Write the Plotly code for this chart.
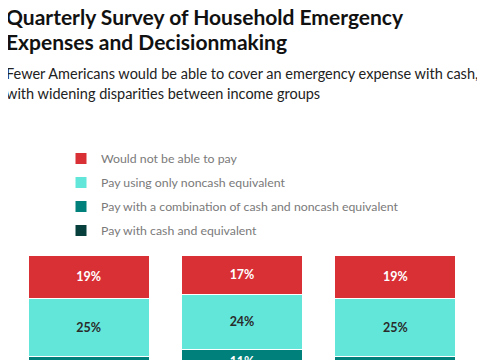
import plotly.graph_objects as go

categories = ["Lower income", "Middle income", "Upper income"]
cash_equiv = [44, 48, 43]
combo = [12, 11, 13]
noncash_only = [25, 24, 25]
cannot_pay = [19, 17, 19]

series_names = ["Pay with cash and equivalent",
                "Pay with a combination of cash and noncash equivalent",
                "Pay using only noncash equivalent",
                "Would not be able to pay"]
series_values = [cash_equiv, combo, noncash_only, cannot_pay]
colors = ["#063F3C", "#00807B", "#62E6DA", "#D93036"]
text_colors = ["#FFFFFF", "#FFFFFF", "#2A2A2A", "#FFFFFF"]
legend_rank = [4, 3, 2, 1]

# page body has an 8px margin: window coords = figure coords + 8
OFF = 8
W, H = 477, 510
L, R = 4, 13
T = 255 - OFF
B = H - (485 - OFF)
PH = H - T - B

FONT = "Lato"

fig = go.Figure()
for i, (name, vals) in enumerate(zip(series_names, series_values)):
    fig.add_trace(go.Bar(
        x=categories, y=vals, name=name, legendgroup=name,
        legendrank=legend_rank[i],
        marker=dict(color=colors[i], line=dict(color="white", width=1)),
        text=[f"{v}%" for v in vals], textposition="inside",
        insidetextanchor="middle",
        textfont=dict(color=text_colors[i], size=12.5, family=FONT, weight="bold"),
        hoverinfo="skip",
    ))

def py(px):
    return 1 + (T - (px - OFF)) / PH

def pxx(px):
    return ((px - OFF) - L) / (W - L - R)

title_font = dict(family=FONT, size=21, color="#111111", weight="bold")
sub_font = dict(family=FONT, size=14.5, color="#222222")
ann = [
    dict(text="Quarterly Survey of Household Emergency", x=pxx(4), y=py(16), font=title_font),
    dict(text="Expenses and Decisionmaking", x=pxx(4), y=py(41), font=title_font),
    dict(text="Fewer Americans would be able to cover an emergency expense with cash,", x=pxx(4), y=py(73), font=sub_font),
    dict(text="with widening disparities between income groups", x=pxx(4), y=py(93), font=sub_font),
]
for a in ann:
    a.update(xref="paper", yref="paper", xanchor="left", yanchor="middle", showarrow=False)

fig.update_layout(
    width=W, height=H,
    margin=dict(l=L, r=R, t=T, b=B),
    barmode="stack", bargap=0.21,
    plot_bgcolor="white", paper_bgcolor="white",
    showlegend=True,
    legend=dict(x=pxx(61), y=py(144), xanchor="left", yanchor="top",
                traceorder="grouped", tracegroupgap=5,
                font=dict(family=FONT, size=12.3, color="#7A7A7A"),
                bgcolor="rgba(0,0,0,0)"),
    xaxis=dict(showgrid=False, showline=False, ticks="", tickfont=dict(size=11, color="#555555")),
    yaxis=dict(range=[0, 100], visible=False),
    annotations=ann,
)

fig.write_html("out.html")
